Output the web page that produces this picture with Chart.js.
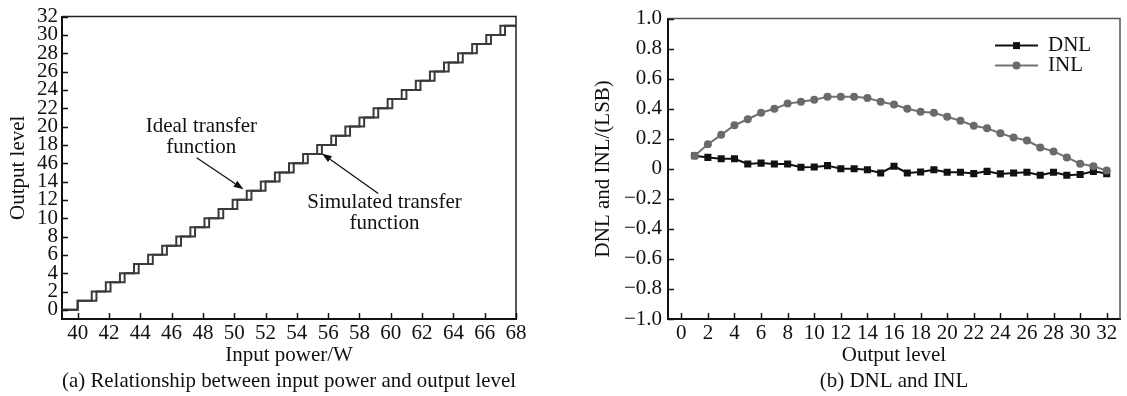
<!DOCTYPE html>
<html><head><meta charset="utf-8">
<script src="https://cdn.jsdelivr.net/npm/chart.js@4"></script>
<style>
html,body{margin:0;padding:0;background:#fff;width:1127px;height:396px;overflow:hidden;}
#ca{position:absolute;left:0;top:0;}
#cb{position:absolute;left:563px;top:0;}
</style></head><body>
<canvas id="ca" width="563" height="396"></canvas>
<canvas id="cb" width="564" height="396"></canvas>
<script>
// ---------- data: chart (a) ----------
const powerTicks = [40,42,44,46,48,50,52,54,56,58,60,62,64,66,68];
const levelTicks = [0,2,4,6,8,10,12,14,16,18,20,22,24,26,28,30,32];
const levelTickLabels = ['0','2','4','6','8','10','12','14','46','18','20','22','24','26','28','30','32'];
const stepLevels = [0,1,2,3,4,5,6,7,8,9,10,11,12,13,14,15,16,17,18,19,20,21,22,23,24,25,26,27,28,29,30,31,31];
const idealPower = [39,40.0,40.9,41.8,42.7,43.6,44.5,45.4,46.3,47.2,48.1,49.0,49.9,50.8,51.7,52.6,53.5,54.4,55.3,56.2,57.1,58.0,58.9,59.8,60.7,61.6,62.5,63.4,64.3,65.2,66.1,67.0,68];
const simulatedPower = [39,40.0,41.2,42.1,43.0,43.9,44.8,45.7,46.6,47.5,48.4,49.3,50.2,51.1,52.0,52.9,53.8,54.7,55.6,56.5,57.4,58.3,59.2,60.1,61.0,61.9,62.8,63.7,64.6,65.5,66.4,67.3,68];

// ---------- data: chart (b) ----------
const outputLevels = [1,2,3,4,5,6,7,8,9,10,11,12,13,14,15,16,17,18,19,20,21,22,23,24,25,26,27,28,29,30,31,32];
const dnl = [0.087,0.076,0.067,0.067,0.032,0.038,0.032,0.032,0.010,0.012,0.021,0.000,0.000,-0.006,-0.028,0.017,-0.028,-0.021,-0.006,-0.023,-0.023,-0.032,-0.017,-0.034,-0.028,-0.023,-0.043,-0.023,-0.043,-0.038,-0.017,-0.032];
const inl = [0.087,0.164,0.226,0.290,0.330,0.373,0.400,0.434,0.446,0.459,0.479,0.479,0.479,0.472,0.446,0.428,0.400,0.380,0.373,0.347,0.320,0.287,0.270,0.236,0.208,0.188,0.142,0.116,0.076,0.034,0.017,-0.012];
const outputTicks = [0,2,4,6,8,10,12,14,16,18,20,22,24,26,28,30,32];
const lsbTicks = [-1,-0.8,-0.6,-0.4,-0.2,0,0.2,0.4,0.6,0.8,1];
const lsbTickLabels = ['\u22121.0','\u22120.8','\u22120.6','\u22120.4','\u22120.2','0','0.2','0.4','0.6','0.8','1.0'];

// ---------- shared styling ----------
const FONT = "'Liberation Serif','Times New Roman',serif";
Chart.defaults.font.family = FONT;
Chart.defaults.color = '#111';
const INK = '#111';

function axisBase(extra){
  return Object.assign({
    type:'linear',
    grid:{display:false, drawOnChartArea:false, drawTicks:false},
    border:{display:true, color:INK, width:2}
  }, extra);
}

// inward tick marks, placed through the scales
const innerTicks = {
  id:'innerTicks',
  afterDraw(chart, args, opts){
    const {ctx, chartArea:a, scales:{x, y}} = chart;
    ctx.save();
    ctx.strokeStyle = INK; ctx.lineWidth = opts.width;
    ctx.beginPath();
    x.ticks.forEach(t => { const px = Math.round(x.getPixelForValue(t.value)) + 0.5;
      ctx.moveTo(px, a.bottom); ctx.lineTo(px, a.bottom - opts.len); });
    y.ticks.forEach(t => { const py = Math.round(y.getPixelForValue(t.value)) + 0.5;
      ctx.moveTo(a.left, py); ctx.lineTo(a.left + opts.len, py); });
    ctx.stroke();
    ctx.restore();
  }
};

const frameBox = {
  id:'frameBox',
  afterDraw(chart, args, opts){
    const {ctx, chartArea:a} = chart;
    ctx.save();
    ctx.strokeStyle = opts.color; ctx.lineWidth = opts.width;
    ctx.beginPath();
    ctx.moveTo(a.left, a.top); ctx.lineTo(a.right, a.top); ctx.lineTo(a.right, a.bottom);
    ctx.stroke();
    ctx.restore();
  }
};

const notes = {
  id:'notes',
  afterDraw(chart, args, opts){
    const {ctx, scales:{x, y}} = chart;
    ctx.save();
    ctx.fillStyle = INK; ctx.strokeStyle = INK;
    ctx.font = opts.size + 'px ' + FONT;
    ctx.textAlign = 'center'; ctx.textBaseline = 'middle';
    opts.texts.forEach(t => ctx.fillText(t.text, x.getPixelForValue(t.x), y.getPixelForValue(t.y)));
    ctx.lineWidth = 1.3;
    opts.arrows.forEach(a => {
      const x0 = x.getPixelForValue(a.from[0]), y0 = y.getPixelForValue(a.from[1]);
      const x1 = x.getPixelForValue(a.to[0]), y1 = y.getPixelForValue(a.to[1]);
      const ang = Math.atan2(y1 - y0, x1 - x0), L = 10, W = 3.5;
      const bx = x1 - L*Math.cos(ang), by = y1 - L*Math.sin(ang);
      ctx.beginPath(); ctx.moveTo(x0, y0); ctx.lineTo(bx, by); ctx.stroke();
      ctx.beginPath();
      ctx.moveTo(x1, y1);
      ctx.lineTo(bx + W*Math.sin(ang), by - W*Math.cos(ang));
      ctx.lineTo(bx - W*Math.sin(ang), by + W*Math.cos(ang));
      ctx.closePath(); ctx.fill();
    });
    ctx.restore();
  }
};

const lineLegend = {
  id:'lineLegend',
  afterDraw(chart, args, opts){
    const {ctx, chartArea:a} = chart;
    ctx.save();
    ctx.font = opts.size + 'px ' + FONT;
    ctx.textAlign = 'left'; ctx.textBaseline = 'middle';
    opts.order.forEach((di, k) => {
      const ds = chart.data.datasets[di];
      const yy = a.top + opts.top + k*opts.gap;
      const xl = a.right - opts.right, xr = xl + opts.len, xm = (xl + xr)/2;
      ctx.strokeStyle = ds.borderColor; ctx.lineWidth = 2;
      ctx.beginPath(); ctx.moveTo(xl, yy); ctx.lineTo(xr, yy); ctx.stroke();
      ctx.fillStyle = ds.pointBackgroundColor;
      if (ds.pointStyle === 'rect') {
        const s = 3.5; ctx.fillRect(xm - s, yy - s, 2*s, 2*s);
      } else {
        ctx.beginPath(); ctx.arc(xm, yy, ds.pointRadius, 0, 2*Math.PI); ctx.fill();
      }
      ctx.fillStyle = INK;
      ctx.fillText(ds.label, xr + 10, yy);
    });
    ctx.restore();
  }
};

// ---------- chart (a) ----------
new Chart(document.getElementById('ca'), {
  type:'line',
  data:{datasets:[
    {label:'Ideal transfer function', data: idealPower.map((p,i)=>({x:p, y:stepLevels[i]})),
     stepped:'before', borderColor:'#3a3a3a', borderWidth:2, pointRadius:0, fill:false},
    {label:'Simulated transfer function', data: simulatedPower.map((p,i)=>({x:p, y:stepLevels[i]})),
     stepped:'before', borderColor:'#3a3a3a', borderWidth:2, pointRadius:0, fill:false}
  ]},
  options:{
    responsive:false, animation:false, devicePixelRatio:1,
    layout:{padding:{top:16, right:47, left:0, bottom:0}},
    scales:{
      x: axisBase({min:39, max:68,
        afterBuildTicks: s => { s.ticks = powerTicks.map(v=>({value:v})); },
        afterFit: s => { s.height = 49.8; },
        ticks:{autoSkip:false, maxRotation:0, padding:2, font:{size:21}, color:INK},
        title:{display:true, text:'Input power/W', font:{size:21}, padding:{top:0, bottom:1}, color:INK}
      }),
      y: axisBase({min:-1, max:32,
        afterBuildTicks: s => { s.ticks = levelTicks.map(v=>({value:v})); },
        afterFit: s => { s.width = 62; },
        ticks:{autoSkip:false, padding:4, font:{size:21}, color:INK,
          callback: v => levelTickLabels[levelTicks.indexOf(v)]},
        title:{display:true, text:'Output level', font:{size:21}, padding:{top:6, bottom:0}, color:INK}
      })
    },
    plugins:{
      legend:{display:false}, tooltip:{enabled:false},
      title:{display:true, text:'(a) Relationship between input power and output level', position:'bottom',
        fullSize:false, font:{size:21, weight:'normal'}, padding:{top:0, bottom:2}, color:INK},
      frameBox:{color:'#222', width:1.5},
      innerTicks:{len:6, width:1.5},
      notes:{size:21,
        texts:[
          {text:'Ideal transfer', x:47.9, y:20.0},
          {text:'function', x:47.9, y:17.7},
          {text:'Simulated transfer', x:59.6, y:11.7},
          {text:'function', x:59.6, y:9.4}
        ],
        arrows:[
          {from:[47.6,16.6], to:[50.6,13.15]},
          {from:[59.2,12.7], to:[55.6,17.07]}
        ]}
    }
  },
  plugins:[frameBox, innerTicks, notes]
});

// ---------- chart (b) ----------
new Chart(document.getElementById('cb'), {
  type:'line',
  data:{datasets:[
    {label:'INL', data: outputLevels.map((x,i)=>({x, y:inl[i]})),
     borderColor:'#727272', borderWidth:2, pointStyle:'circle', pointRadius:4,
     pointBackgroundColor:'#6a6a6a', pointBorderColor:'#6a6a6a', pointBorderWidth:0, tension:0, fill:false},
    {label:'DNL', data: outputLevels.map((x,i)=>({x, y:dnl[i]})),
     borderColor:'#111', borderWidth:2, pointStyle:'rect', pointRadius:5,
     pointBackgroundColor:'#111', pointBorderColor:'#111', pointBorderWidth:0, tension:0, fill:false}
  ]},
  options:{
    responsive:false, animation:false, devicePixelRatio:1,
    layout:{padding:{top:16, right:7, left:0, bottom:0}},
    scales:{
      x: axisBase({min:-1, max:33,
        afterBuildTicks: s => { s.ticks = outputTicks.map(v=>({value:v})); },
        afterFit: s => { s.height = 49.8; },
        ticks:{autoSkip:false, maxRotation:0, padding:2, font:{size:21}, color:INK},
        title:{display:true, text:'Output level', font:{size:21}, padding:{top:0, bottom:1}, color:INK}
      }),
      y: axisBase({min:-1, max:1,
        afterBuildTicks: s => { s.ticks = lsbTicks.map(v=>({value:v})); },
        afterFit: s => { s.width = 105; },
        ticks:{autoSkip:false, padding:6, font:{size:21}, color:INK,
          callback: v => lsbTickLabels[lsbTicks.indexOf(v)]},
        title:{display:true, text:'DNL and INL/(LSB)', font:{size:21}, padding:{top:28, bottom:0}, color:INK}
      })
    },
    plugins:{
      legend:{display:false}, tooltip:{enabled:false},
      title:{display:true, text:'(b) DNL and INL', position:'bottom',
        fullSize:false, font:{size:21, weight:'normal'}, padding:{top:0, bottom:2}, color:INK},
      frameBox:{color:'#555', width:1.5},
      innerTicks:{len:6, width:1.5},
      lineLegend:{order:[1,0], size:21, top:27, gap:20, right:125, len:43}
    }
  },
  plugins:[frameBox, innerTicks, lineLegend]
});
</script>
</body></html>
